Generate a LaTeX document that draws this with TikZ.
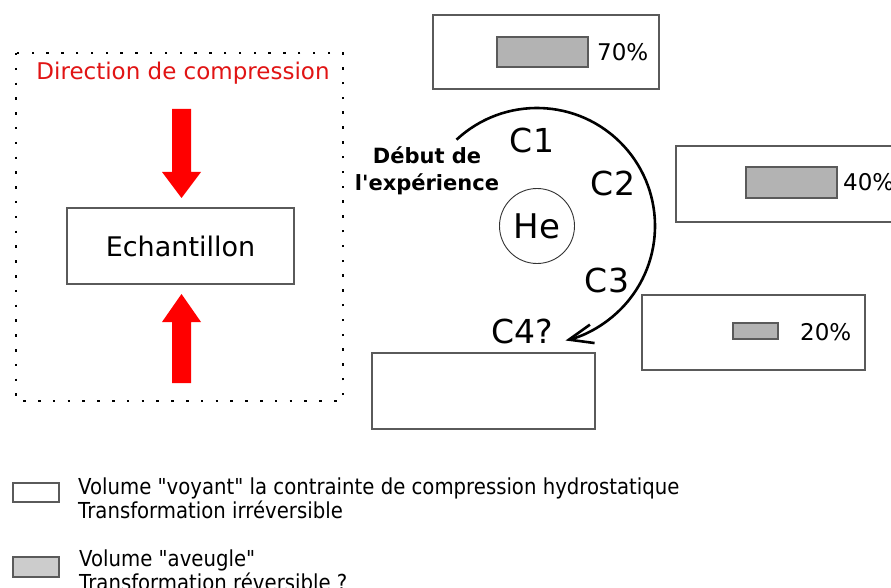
\documentclass[tikz,border=0pt]{standalone}
\usepackage{fontspec}
\usepackage{graphicx}
\setmainfont{DejaVu Sans}
\usetikzlibrary{arrows.meta}
\definecolor{boxline}{RGB}{90,90,90}
\definecolor{barfill}{RGB}{179,179,179}
\definecolor{legfill}{RGB}{204,204,204}
\definecolor{redtxt}{RGB}{225,20,20}
\tikzset{
  volbox/.style={draw=boxline, line width=1.4pt, fill=white},
  barbox/.style={draw=boxline, line width=1.2pt, fill=barfill},
  pct/.style={anchor=west, inner sep=0pt, font=\fontsize{23}{28}\selectfont},
  clab/.style={inner sep=0pt, font=\fontsize{33}{38}\selectfont},
  legtxt/.style={anchor=base west, inner sep=0pt, font=\fontsize{22}{26}\selectfont},
  redarrow/.style={fill=red, draw=none},
}
\begin{document}
\begin{tikzpicture}[x=1pt, y=-1pt]
\clip (0,0) rectangle (891,588);
\fill[white] (0,0) rectangle (891,588);

% dotted frame
\draw[line width=2.5pt, dash pattern=on 2.5pt off 12.3pt] (16,53) rectangle (343,401);
\node[text=redtxt, font=\fontsize{23}{28}\selectfont, inner sep=0pt] (dir) at (183,73) {Direction de compression};

% red arrows
\path[redarrow] (172,109) -- (191,109) -- (191,172) -- (201,172) -- (181.5,198) -- (162,172) -- (172,172) -- cycle;
\path[redarrow] (172,383) -- (191,383) -- (191,322) -- (201,322) -- (181.5,294) -- (162,322) -- (172,322) -- cycle;

% sample
\draw[volbox] (67,208) rectangle (294,284);
\node[font=\fontsize{27}{32}\selectfont, inner sep=0pt] (ech) at (180.5,246) {Echantillon};

% volume boxes
\draw[volbox] (433,15) rectangle (659,89);
\draw[barbox] (497,37) rectangle (588,67);
\node[pct] (p70) at (597,52) {70\%};

\draw[volbox] (676,146) rectangle (900,222);
\draw[barbox] (746,167) rectangle (837,198);
\node[pct] (p40) at (843,182) {40\%};

\draw[volbox] (642,295) rectangle (865,370);
\draw[barbox] (733,323) rectangle (778,339);
\node[pct] (p20) at (800,332) {20\%};

\draw[volbox] (372,353) rectangle (595,429);

% He and cycle
\node[draw=black!80, line width=0.9pt, circle, minimum size=75pt, inner sep=0pt,
      font=\fontsize{34}{40}\selectfont] (He) at (537,226) {He};
\draw[line width=2.6pt, -{Straight Barb[length=24pt, width=19pt, line width=2.6pt]}]
  (He.center) ++(227:118) arc[start angle=227, end angle=436, radius=118];

\node[align=center, font=\bfseries\fontsize{21}{27}\selectfont, inner sep=0pt] (debut) at (427,171) {Début de\\l\textquotesingle expérience};
\node[clab] (c1) at (532,140) {C1};
\node[clab] (c2) at (613,183) {C2};
\node[clab] (c3) at (607,280) {C3};
\node[clab] (c4) at (522.5,331) {C4?};

% legend
\draw[draw=boxline, line width=1.2pt, fill=white] (13,483) rectangle (59,502);
\draw[draw=boxline, line width=1.2pt, fill=legfill] (13,557) rectangle (59,577);
\node[legtxt] (l1) at (78,494) {\scalebox{0.895}[1]{Volume \textquotedbl voyant\textquotedbl{} la contrainte de compression hydrostatique}};
\node[legtxt] (l2) at (78,518) {\scalebox{0.895}[1]{Transformation irréversible}};
\node[legtxt] (l3) at (79,566) {\scalebox{0.895}[1]{Volume \textquotedbl aveugle\textquotedbl}};
\node[legtxt] (l4) at (79,590) {\scalebox{0.895}[1]{Transformation réversible ?}};
\end{tikzpicture}
\end{document}
